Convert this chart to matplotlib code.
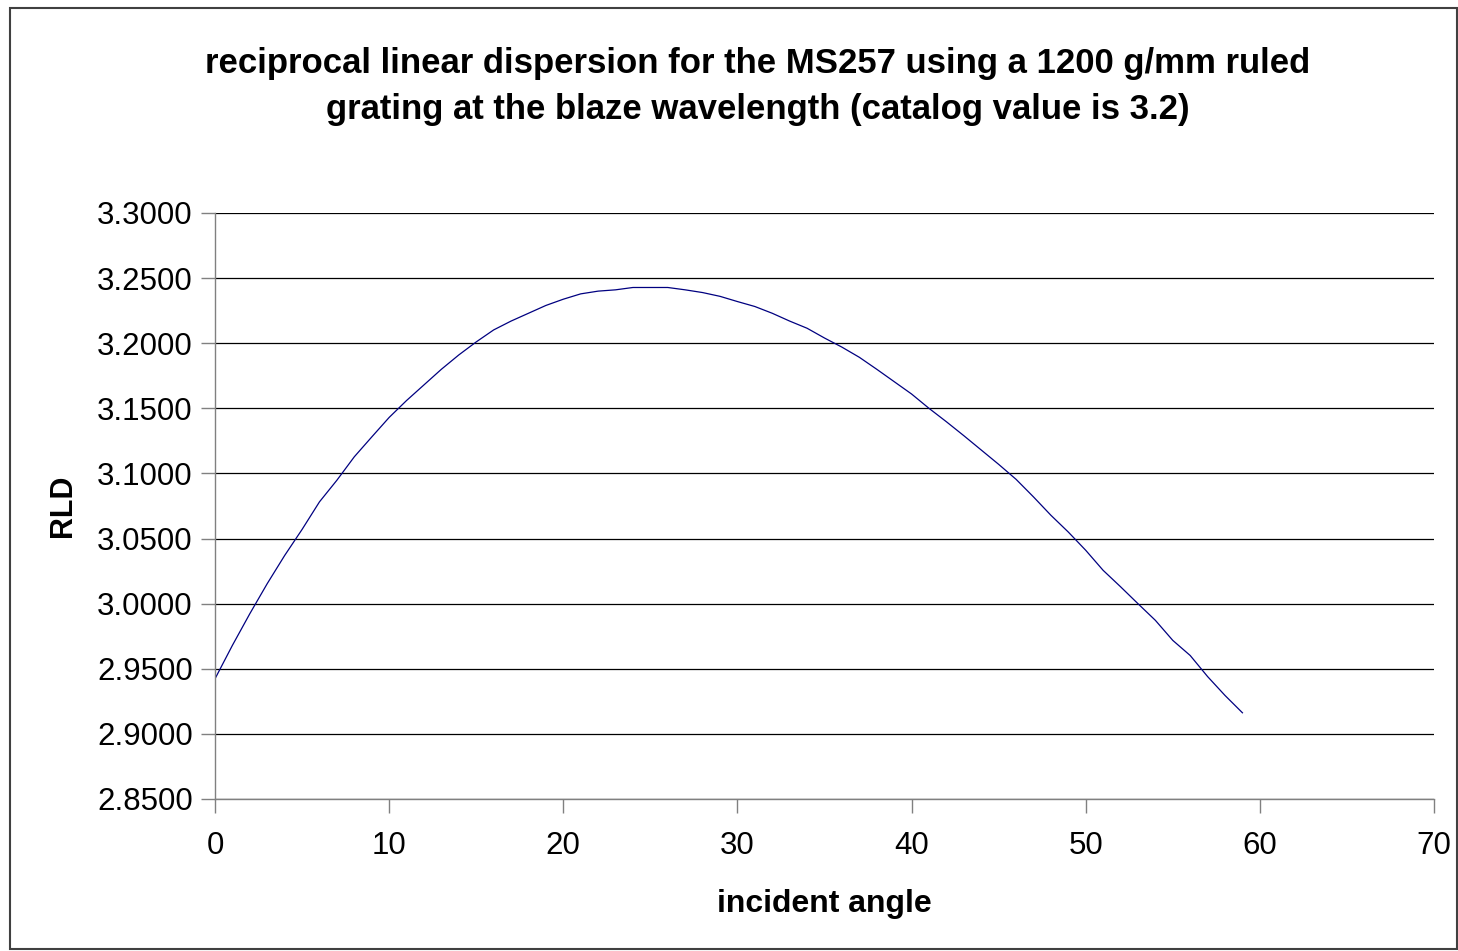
import matplotlib
matplotlib.use("Agg")
import matplotlib.pyplot as plt
from matplotlib.patches import Rectangle

plt.rcParams['font.family'] = ['Liberation Sans', 'DejaVu Sans']

# incident angle (deg) and reciprocal linear dispersion (nm/mm)
angle = list(range(0, 60))
rld = [2.9423, 2.968, 2.9923, 3.0154, 3.037, 3.057, 3.0782, 3.0948, 3.1128, 3.128,
       3.143, 3.156, 3.168, 3.180, 3.191, 3.201, 3.2102, 3.217, 3.223, 3.229,
       3.2338, 3.2379, 3.240, 3.241, 3.2428, 3.2428, 3.2428, 3.241, 3.2389, 3.236,
       3.232, 3.2282, 3.223, 3.217, 3.2115, 3.204, 3.197, 3.1892, 3.180, 3.1705,
       3.161, 3.150, 3.1397, 3.129, 3.118, 3.107, 3.0955, 3.082, 3.0679, 3.055,
       3.041, 3.0256, 3.013, 3.000, 2.9872, 2.9718, 2.9602, 2.944, 2.9295, 2.9162]

yticks = [2.85, 2.90, 2.95, 3.00, 3.05, 3.10, 3.15, 3.20, 3.25, 3.30]
xticks = [0, 10, 20, 30, 40, 50, 60, 70]

title = ('reciprocal linear dispersion for the MS257 using a 1200 g/mm ruled\n'
         'grating at the blaze wavelength (catalog value is 3.2)')

fig = plt.figure(figsize=(14.58, 9.51), dpi=100)
ax = fig.add_axes([215 / 1458, 1 - 799 / 951, (1434 - 215) / 1458, (799 - 213) / 951])

ax.plot(angle, rld, color='#000080', lw=0.9)

ax.set_xlim(0, 70)
ax.set_ylim(2.85, 3.30)
ax.set_xticks(xticks)
ax.set_yticks(yticks)
ax.set_yticklabels([f'{v:.4f}' for v in yticks])
ax.grid(axis='y', color='black', lw=0.9)
ax.set_axisbelow(True)
for s in ['top', 'right']:
    ax.spines[s].set_visible(False)
for s in ['left', 'bottom']:
    ax.spines[s].set_color('#808080')
    ax.spines[s].set_linewidth(1.0)
ax.tick_params(axis='both', labelsize=22.5, length=10, width=1.0, color='#808080')
ax.tick_params(axis='x', pad=13)
ax.tick_params(axis='y', pad=6)

ax.set_xlabel('incident angle', fontsize=23, fontweight='bold', labelpad=20)
ax.set_ylabel('RLD', fontsize=22, fontweight='bold', labelpad=14)
fig.text(758 / 1458, 1 - 86 / 951, title, ha='center', va='center',
         fontsize=25, fontweight='bold', linespacing=1.5)

fig.patches.append(Rectangle((10 / 1458, 0.002), 1 - 10 / 1458 - 0.001, 1 - 8 / 951 - 0.002,
                             transform=fig.transFigure, fill=False,
                             edgecolor='#404040', lw=1.5))

fig.savefig('out.png', dpi=100)
